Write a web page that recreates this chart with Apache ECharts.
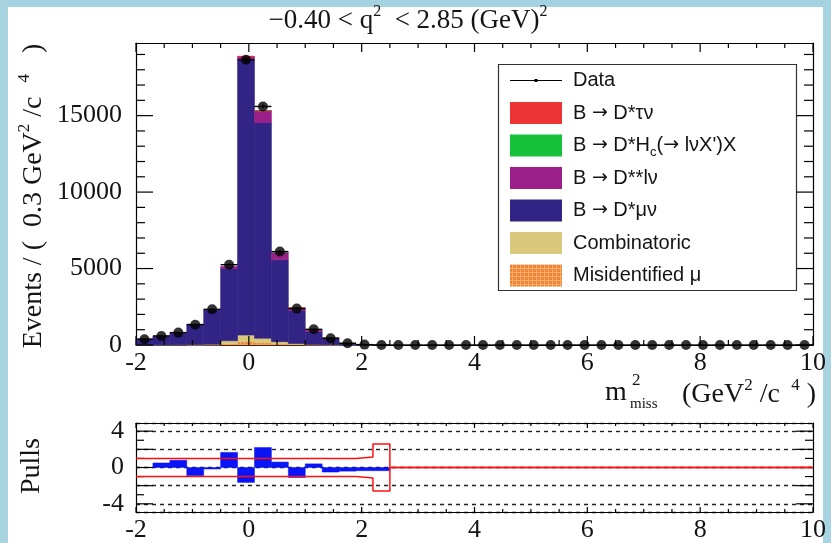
<!DOCTYPE html>
<html>
<head>
<meta charset="utf-8">
<script src="https://cdn.jsdelivr.net/npm/echarts@6/dist/echarts.min.js"></script>
<style>
  html, body { margin: 0; padding: 0; background: #fff; }
  #chart { width: 831px; height: 543px; }
</style>
</head>
<body>
<div id="chart"></div>
<script>
// Binning of the missing-mass-squared histogram: 40 bins of 0.3 GeV^2/c^4 from -2 to 10
const binLow = -2.0;
const binWidth = 0.3;
const nBins = 40;

// Observed events per bin
const dataCounts = [380, 590, 810, 1330, 2330, 5250, 18650, 15600, 6110, 2380,
                    1025, 440, 110, 25, 5, 0, 0, 0, 0, 0,
                    0, 0, 0, 0, 0, 0, 0, 0, 0, 0,
                    0, 0, 0, 0, 0, 0, 0, 0, 0, 0];

// Fit components per bin (stacked bottom to top)
const misIdMu =      [0, 0, 0, 5, 15, 80, 200, 150, 70, 30,
                      10, 3, 0, 0, 0, 0, 0, 0, 0, 0,
                      0, 0, 0, 0, 0, 0, 0, 0, 0, 0,
                      0, 0, 0, 0, 0, 0, 0, 0, 0, 0];
const combinatoric = [5, 5, 10, 15, 30, 200, 450, 290, 150, 60,
                      20, 8, 3, 1, 0, 0, 0, 0, 0, 0,
                      0, 0, 0, 0, 0, 0, 0, 0, 0, 0,
                      0, 0, 0, 0, 0, 0, 0, 0, 0, 0];
const dStarMuNu =    [370, 565, 765, 1320, 2240, 4730, 18000, 14110, 5360, 2170,
                      860, 400, 100, 23, 6, 0, 0, 0, 0, 0,
                      0, 0, 0, 0, 0, 0, 0, 0, 0, 0,
                      0, 0, 0, 0, 0, 0, 0, 0, 0, 0];
const dStarStarLNu = [5, 8, 12, 23, 45, 120, 220, 770, 480, 170,
                      110, 35, 10, 3, 0, 0, 0, 0, 0, 0,
                      0, 0, 0, 0, 0, 0, 0, 0, 0, 0,
                      0, 0, 0, 0, 0, 0, 0, 0, 0, 0];
const dStarHc =      [0, 0, 0, 0, 0, 0, 0, 2, 3, 3,
                      5, 3, 1, 0, 0, 0, 0, 0, 0, 0,
                      0, 0, 0, 0, 0, 0, 0, 0, 0, 0,
                      0, 0, 0, 0, 0, 0, 0, 0, 0, 0];
const dStarTauNu =   [0, 0, 0, 0, 0, 0, 5, 3, 0, 2,
                      7, 1, 0, 0, 0, 0, 0, 0, 0, 0,
                      0, 0, 0, 0, 0, 0, 0, 0, 0, 0,
                      0, 0, 0, 0, 0, 0, 0, 0, 0, 0];

// Residuals (data - fit)/sigma per bin
const pulls = [0, 0.5, 0.8, -0.9, -0.05, 1.66, -1.64, 2.2, 0.6, -1.1,
               0.4, -0.5, -0.4, -0.35, -0.35, 0, 0, 0, 0, 0,
               0, 0, 0, 0, 0, 0, 0, 0, 0, 0,
               0, 0, 0, 0, 0, 0, 0, 0, 0, 0];
// Half-width of the expected pull band per bin
const pullBand = [1, 1, 1, 1, 1, 1, 1, 1, 1, 1,
                  1, 1, 1, 1.15, 2.6, 0, 0, 0, 0, 0,
                  0, 0, 0, 0, 0, 0, 0, 0, 0, 0,
                  0, 0, 0, 0, 0, 0, 0, 0, 0, 0];

// Axis tick values and labels
const xTicks = [-2, 0, 2, 4, 6, 8, 10];
const xMinorTicks = [-1.5, -1, -0.5, 0.5, 1, 1.5, 2.5, 3, 3.5, 4.5, 5, 5.5,
                     6.5, 7, 7.5, 8.5, 9, 9.5];
const eventTicks = [0, 5000, 10000, 15000];
const eventMinorTicks = [1000, 2000, 3000, 4000, 6000, 7000, 8000, 9000, 11000, 12000,
                         13000, 14000, 16000, 17000, 18000, 19000];
const pullTicks = [-4, -2, 0, 2, 4];
const pullMinorTicks = [-3, -1, 1, 3];
const pullTickLabels = [-4, 0, 4];

const SERIF = '"Liberation Serif", "DejaVu Serif", serif';
const SANS = '"Liberation Sans", Arial, sans-serif';
const ARROW_FONT = '"DejaVu Sans", sans-serif';
const INK = '#141414';

// Small cross-hatch tile for the misidentified-muon fill
function hatchFill() {
  const c = document.createElement('canvas');
  c.width = 4; c.height = 4;
  const g = c.getContext('2d');
  g.fillStyle = '#ee8434';
  g.fillRect(0, 0, 4, 4);
  g.fillStyle = '#f6ad6e';
  g.fillRect(0, 0, 4, 1);
  g.fillRect(0, 0, 1, 4);
  return { image: c, repeat: 'repeat' };
}
const misIdFill = hatchFill();

const colours = {
  tau: '#ec3434',
  hc: '#17c23b',
  dss: '#9a1f88',
  mu: '#312484',
  comb: '#dac87c',
  misid: '#ee8434'
};

function binEdges(i) {
  return [binLow + i * binWidth, binLow + (i + 1) * binWidth];
}

// Stacked histogram layers, bottom to top
const stackOrder = [
  { name: 'Misidentified μ', values: misIdMu, fill: misIdFill, edge: colours.misid },
  { name: 'Combinatoric', values: combinatoric, fill: colours.comb, edge: colours.comb },
  { name: 'B → D*μν', values: dStarMuNu, fill: colours.mu, edge: colours.mu },
  { name: 'B → D**lν', values: dStarStarLNu, fill: colours.dss, edge: colours.dss },
  { name: 'B → D*Hc', values: dStarHc, fill: colours.hc, edge: colours.hc },
  { name: 'B → D*τν', values: dStarTauNu, fill: colours.tau, edge: colours.tau }
];

const runningTotal = new Array(nBins).fill(0);
const stackSeries = stackOrder.map(function (comp) {
  const items = comp.values.map(function (v, i) {
    const e = binEdges(i);
    const base = runningTotal[i];
    runningTotal[i] += v;
    return [e[0], e[1], base, base + v];
  });
  return {
    type: 'custom',
    name: comp.name,
    xAxisIndex: 0,
    yAxisIndex: 0,
    z: 2,
    silent: true,
    encode: { x: [0, 1], y: [2, 3] },
    data: items,
    renderItem: function (params, api) {
      const lo = api.value(2), hi = api.value(3);
      if (!(hi > lo)) return { type: 'group', children: [] };
      const a = api.coord([api.value(0), hi]);
      const b = api.coord([api.value(1), lo]);
      return {
        type: 'rect',
        shape: { x: a[0], y: a[1], width: b[0] - a[0], height: b[1] - a[1] },
        style: { fill: comp.fill, stroke: comp.edge, lineWidth: 0.6 }
      };
    }
  };
});

// Data points with bin extent and Poisson error bars
const dataErrItems = dataCounts.map(function (n, i) {
  const e = binEdges(i);
  return [e[0], e[1], n, Math.sqrt(n)];
});
const dataPoints = dataCounts.map(function (n, i) {
  return [binLow + (i + 0.5) * binWidth, n];
});

// Pull bars
const pullItems = pulls.map(function (p, i) {
  const e = binEdges(i);
  return [e[0], e[1], p];
});

// Pull band outlines (upper and lower step lines)
const bandUpper = [], bandLower = [];
pullBand.forEach(function (w, i) {
  const e = binEdges(i);
  bandUpper.push([e[0], w], [e[1], w]);
  bandLower.push([e[0], -w], [e[1], -w]);
});

// Inward tick marks on all four sides of a frame, placed through the axis scales
function frameTicks(xi, yi, xMaj, xMin, yMaj, yMin, len) {
  const items = [];
  xMaj.forEach(function (v) { items.push([0, v, len.xMajor]); });
  xMin.forEach(function (v) { items.push([0, v, len.xMinor]); });
  yMaj.forEach(function (v) { items.push([1, v, len.yMajor]); });
  yMin.forEach(function (v) { items.push([1, v, len.yMinor]); });
  const stroke = { stroke: '#000', lineWidth: 1.2 };
  return {
    type: 'custom',
    name: 'Frame ticks',
    xAxisIndex: xi, yAxisIndex: yi, z: 4, silent: true,
    encode: { x: -1, y: -1 },
    data: items,
    renderItem: function (params, api) {
      const cs = params.coordSys;
      const kind = api.value(0), v = api.value(1), L = api.value(2);
      if (kind === 0) {
        const px = api.coord([v, len.yRef])[0];
        const bottom = cs.y + cs.height, top = cs.y;
        return {
          type: 'group',
          children: [
            { type: 'line', shape: { x1: px, y1: bottom, x2: px, y2: bottom - L }, style: stroke },
            { type: 'line', shape: { x1: px, y1: top, x2: px, y2: top + L }, style: stroke }
          ]
        };
      }
      const py = api.coord([len.xRef, v])[1];
      const left = cs.x, right = cs.x + cs.width;
      return {
        type: 'group',
        children: [
          { type: 'line', shape: { x1: left, y1: py, x2: left + L, y2: py }, style: stroke },
          { type: 'line', shape: { x1: right, y1: py, x2: right - L, y2: py }, style: stroke }
        ]
      };
    }
  };
}

const FRAME = { show: true, onZero: false, lineStyle: { color: '#000', width: 1.2 } };

function xAxis(grid, pos, labels) {
  return {
    type: 'value', gridIndex: grid, position: pos,
    min: -2, max: 10, interval: 2,
    axisLine: FRAME,
    axisTick: { show: false },
    minorTick: { show: false },
    splitLine: { show: false },
    axisLabel: labels ? {
      show: true, margin: 5, color: INK, fontFamily: SERIF, fontSize: 26,
      formatter: function (v) { return xTicks.indexOf(v) >= 0 ? String(v) : ''; }
    } : { show: false }
  };
}

function eventAxis(pos, labels) {
  return {
    type: 'value', gridIndex: 0, position: pos, min: 0, max: 19750, interval: 5000,
    axisLine: FRAME,
    axisTick: { show: false },
    minorTick: { show: false },
    splitLine: { show: false },
    axisLabel: labels ? {
      show: true, margin: 14, color: INK, fontFamily: SERIF, fontSize: 26,
      formatter: function (v) { return eventTicks.indexOf(v) >= 0 ? String(v) : ''; }
    } : { show: false }
  };
}

function pullAxis(pos, labels) {
  return {
    type: 'value', gridIndex: 1, position: pos, min: -4.9, max: 4.9, splitNumber: 5,
    axisLine: FRAME,
    axisTick: { show: false },
    minorTick: { show: false },
    splitLine: labels ? { show: true, lineStyle: { color: '#222', width: 1.4, type: [4, 4] } } : { show: false },
    axisLabel: labels ? {
      show: true, margin: 12, color: INK, fontFamily: SERIF, fontSize: 26,
      formatter: function (v) { return pullTickLabels.indexOf(v) >= 0 ? String(v) : ''; }
    } : { show: false }
  };
}

// Legend rows (rich text)
const legendRich = {
  n: { fontFamily: SANS, fontSize: 20, fill: INK, lineHeight: 26, verticalAlign: 'middle' },
  a: { fontFamily: ARROW_FONT, fontSize: 19, fill: INK, lineHeight: 26, verticalAlign: 'middle' },
  b: { fontFamily: SANS, fontSize: 13, fill: INK, lineHeight: 26, verticalAlign: 'bottom' }
};
const legendRows = [
  { text: '{n|Data}', swatch: null },
  { text: '{n|B }{a|→}{n| D*τν}', swatch: colours.tau },
  { text: '{n|B }{a|→}{n| D*H}{b|c}{n|(}{a|→}{n| lνX\')X}', swatch: colours.hc },
  { text: '{n|B }{a|→}{n| D**lν}', swatch: colours.dss },
  { text: '{n|B }{a|→}{n| D*μν}', swatch: colours.mu },
  { text: '{n|Combinatoric}', swatch: colours.comb },
  { text: '{n|Misidentified μ}', swatch: misIdFill }
];
const legendChildren = [
  { type: 'rect', shape: { x: 498.5, y: 64.5, width: 298, height: 226 }, style: { fill: '#fff', stroke: '#333', lineWidth: 1.2 } }
];
legendRows.forEach(function (row, k) {
  const cy = 80.5 + k * 32.5;
  if (row.swatch) {
    legendChildren.push({ type: 'rect', shape: { x: 510, y: cy - 11, width: 52, height: 22 }, style: { fill: row.swatch } });
  } else {
    legendChildren.push({ type: 'line', shape: { x1: 510, y1: cy, x2: 562, y2: cy }, style: { stroke: '#000', lineWidth: 1 } });
    legendChildren.push({ type: 'rect', shape: { x: 534.5, y: cy - 1.5, width: 3, height: 3 }, style: { fill: '#000' } });
  }
  legendChildren.push({ type: 'text', x: 573, y: cy, style: { text: row.text, rich: legendRich, verticalAlign: 'middle', align: 'left' } });
});

const titleRich = {
  n: { fontFamily: SERIF, fontSize: 27, fill: INK, lineHeight: 30, verticalAlign: 'bottom' },
  s: { fontFamily: SERIF, fontSize: 16, fill: INK, lineHeight: 30, verticalAlign: 'top' }
};
const axisTitleRich = {
  n: { fontFamily: SERIF, fontSize: 28, fill: INK, lineHeight: 31, verticalAlign: 'bottom' },
  s: { fontFamily: SERIF, fontSize: 17, fill: INK, lineHeight: 31, verticalAlign: 'top' }
};

const option = {
  backgroundColor: '#ffffff',
  animation: false,
  grid: [
    { left: 136, top: 43, width: 677, height: 302 },
    { left: 136, top: 423, width: 677, height: 89 }
  ],
  xAxis: [xAxis(0, 'bottom', true), xAxis(0, 'top', false), xAxis(1, 'bottom', true), xAxis(1, 'top', false)],
  yAxis: [eventAxis('left', true), eventAxis('right', false), pullAxis('left', true), pullAxis('right', false)],
  series: stackSeries.concat([
    frameTicks(0, 0, xTicks, xMinorTicks, eventTicks, eventMinorTicks,
      { xMajor: 9, xMinor: 5, yMajor: 17, yMinor: 9, xRef: -2, yRef: 0 }),
    frameTicks(2, 2, xTicks, xMinorTicks, pullTicks, pullMinorTicks,
      { xMajor: 5, xMinor: 3, yMajor: 17, yMinor: 8, xRef: -2, yRef: 0 }),
    {
      type: 'custom',
      name: 'Data',
      xAxisIndex: 0, yAxisIndex: 0, z: 5, silent: true,
      encode: { x: [0, 1], y: 2 },
      data: dataErrItems,
      renderItem: function (params, api) {
        const x0 = api.value(0), x1 = api.value(1), n = api.value(2), s = api.value(3);
        const l = api.coord([x0, n]), r = api.coord([x1, n]);
        const top = api.coord([(x0 + x1) / 2, n + s]), bot = api.coord([(x0 + x1) / 2, Math.max(n - s, 0)]);
        return {
          type: 'group',
          children: [
            { type: 'line', shape: { x1: l[0], y1: l[1], x2: r[0], y2: r[1] }, style: { stroke: '#000', lineWidth: 1.4 } },
            { type: 'line', shape: { x1: top[0], y1: top[1], x2: bot[0], y2: bot[1] }, style: { stroke: '#000', lineWidth: 1.4 } }
          ]
        };
      }
    },
    {
      type: 'scatter',
      name: 'Data points',
      xAxisIndex: 0, yAxisIndex: 0, z: 6, silent: true, clip: false,
      symbol: 'circle', symbolSize: 10,
      itemStyle: { color: '#000' },
      data: dataPoints
    },
    {
      type: 'custom',
      name: 'Pulls',
      xAxisIndex: 2, yAxisIndex: 2, z: 3, silent: true,
      encode: { x: [0, 1], y: 2 },
      data: pullItems,
      renderItem: function (params, api) {
        const p = api.value(2);
        if (p === 0) return { type: 'group', children: [] };
        const a = api.coord([api.value(0), Math.max(p, 0)]);
        const b = api.coord([api.value(1), Math.min(p, 0)]);
        return {
          type: 'rect',
          shape: { x: a[0], y: a[1], width: b[0] - a[0], height: Math.max(b[1] - a[1], 1.5) },
          style: { fill: '#0a14f5', stroke: '#0a14f5', lineWidth: 0.5 }
        };
      }
    },
    {
      type: 'line', name: 'Band upper', xAxisIndex: 2, yAxisIndex: 2, z: 5, silent: true,
      showSymbol: false, symbol: 'none', data: bandUpper,
      lineStyle: { color: '#ff1010', width: 1.5 }
    },
    {
      type: 'line', name: 'Band lower', xAxisIndex: 2, yAxisIndex: 2, z: 5, silent: true,
      showSymbol: false, symbol: 'none', data: bandLower,
      lineStyle: { color: '#ff1010', width: 1.5 }
    }
  ]),
  graphic: [
    // light frame around the canvas
    { type: 'rect', z: -10, silent: true, shape: { x: 0, y: 0, width: 831, height: 7 }, style: { fill: '#a4d2e1' } },
    { type: 'rect', z: -10, silent: true, shape: { x: 0, y: 0, width: 8, height: 543 }, style: { fill: '#a8d4e2' } },
    { type: 'rect', z: -10, silent: true, shape: { x: 823, y: 0, width: 8, height: 543 }, style: { fill: '#a8d4e2' } },
    // title
    {
      type: 'text', x: 408, y: 19, z: 10,
      style: { text: '{n|−0.40 < q}{s|2}{n|  < 2.85 (GeV)}{s|2}', align: 'center', verticalAlign: 'middle', rich: titleRich }
    },
    // y-axis title
    {
      type: 'text', x: 32, y: 196, rotation: Math.PI / 2, z: 10,
      style: { text: '{n|Events / (  0.3 GeV}{s|2}{n| /c  }{s|4}{n|   )}', align: 'center', verticalAlign: 'middle', rich: axisTitleRich }
    },
    // x-axis title
    { type: 'text', x: 605, y: 393, z: 10, style: { text: 'm', fontFamily: SERIF, fontSize: 28, fill: INK, align: 'left', verticalAlign: 'middle' } },
    { type: 'text', x: 632, y: 381, z: 10, style: { text: '2', fontFamily: SERIF, fontSize: 17, fill: INK, align: 'left', verticalAlign: 'middle' } },
    { type: 'text', x: 630, y: 404, z: 10, style: { text: 'miss', fontFamily: SERIF, fontSize: 15, fill: INK, align: 'left', verticalAlign: 'middle' } },
    {
      type: 'text', x: 682, y: 393, z: 10,
      style: { text: '{n|(GeV}{s|2}{n| /c }{s| 4}{n| )}', align: 'left', verticalAlign: 'middle', rich: axisTitleRich }
    },
    // pulls title
    {
      type: 'text', x: 32, y: 466, rotation: Math.PI / 2, z: 10,
      style: { text: 'Pulls', fontFamily: SERIF, fontSize: 28, fill: INK, align: 'center', verticalAlign: 'middle' }
    },
    // legend
    { type: 'group', z: 20, children: legendChildren }
  ]
};

const chart = echarts.init(document.getElementById('chart'), null, { renderer: 'canvas' });
chart.setOption(option);
</script>
</body>
</html>
